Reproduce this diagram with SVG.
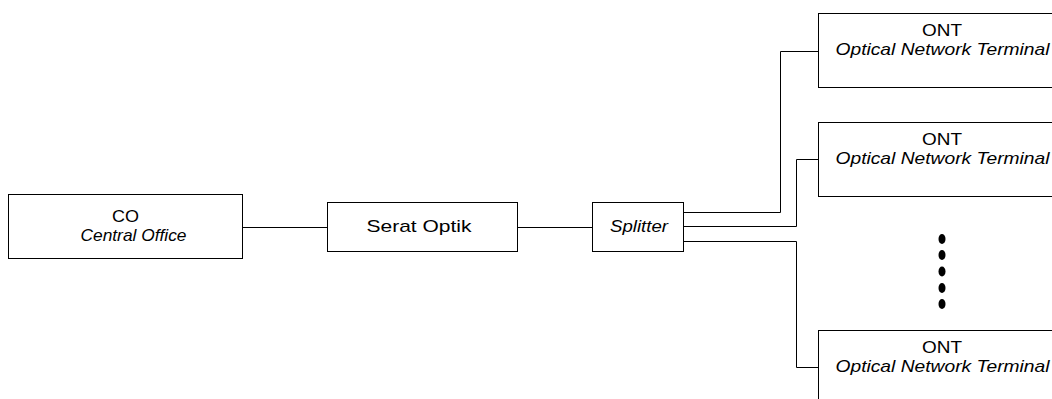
<svg xmlns="http://www.w3.org/2000/svg" width="1052" height="399" viewBox="0 0 1052 399">
<style>
.box{fill:#fff;stroke:#000;stroke-width:1}
.t{font-family:"Liberation Sans",Arial,sans-serif;font-size:17px;fill:#000;text-anchor:middle}
.i{font-style:italic}
.c{fill:none;stroke:#000;stroke-width:1}
</style>
<rect width="1052" height="399" fill="#fff"/>
<g id="connectors">
<path class="c" d="M242.5,227.5H327.5"/>
<path class="c" d="M517.5,227.5H592.5"/>
<path class="c" d="M683.5,212.5H780.5V51.5H818.5"/>
<path class="c" d="M683.5,226.5H796.5V159.5H818.5"/>
<path class="c" d="M680.5,241.5H796.5V367.5H818.5"/>
</g>
<g id="co">
<rect class="box" x="8.5" y="194.5" width="234" height="64"/>
<text class="t" x="125.5" y="222" textLength="27" lengthAdjust="spacingAndGlyphs">CO</text>
<text class="t i" x="133.5" y="241" textLength="106" lengthAdjust="spacingAndGlyphs">Central Office</text>
</g>
<g id="serat">
<rect class="box" x="327.5" y="202.5" width="190" height="49"/>
<text class="t" x="419" y="232" textLength="105" lengthAdjust="spacingAndGlyphs">Serat Optik</text>
</g>
<g id="splitter">
<rect class="box" x="592.5" y="202.5" width="91" height="49"/>
<text class="t i" x="639" y="232" textLength="58" lengthAdjust="spacingAndGlyphs">Splitter</text>
</g>
<g id="ont1">
<rect class="box" x="818.5" y="13.5" width="250" height="74"/>
<text class="t" x="942" y="36" textLength="40" lengthAdjust="spacingAndGlyphs">ONT</text>
<text class="t i" x="942.5" y="55" textLength="214" lengthAdjust="spacingAndGlyphs">Optical Network Terminal</text>
</g>
<g id="ont2">
<rect class="box" x="818.5" y="122.5" width="250" height="74"/>
<text class="t" x="942" y="145" textLength="40" lengthAdjust="spacingAndGlyphs">ONT</text>
<text class="t i" x="942.5" y="164" textLength="214" lengthAdjust="spacingAndGlyphs">Optical Network Terminal</text>
</g>
<g id="ont3">
<rect class="box" x="818.5" y="330.5" width="250" height="80"/>
<text class="t" x="942" y="353" textLength="40" lengthAdjust="spacingAndGlyphs">ONT</text>
<text class="t i" x="942.5" y="372" textLength="214" lengthAdjust="spacingAndGlyphs">Optical Network Terminal</text>
</g>
<g id="dots" fill="#000">
<ellipse cx="942" cy="239" rx="3.5" ry="5"/>
<ellipse cx="942" cy="255" rx="3.5" ry="5"/>
<ellipse cx="942" cy="271.5" rx="3.5" ry="5"/>
<ellipse cx="942" cy="288" rx="3.5" ry="5"/>
<ellipse cx="942" cy="304" rx="3.5" ry="5"/>
</g>
</svg>
